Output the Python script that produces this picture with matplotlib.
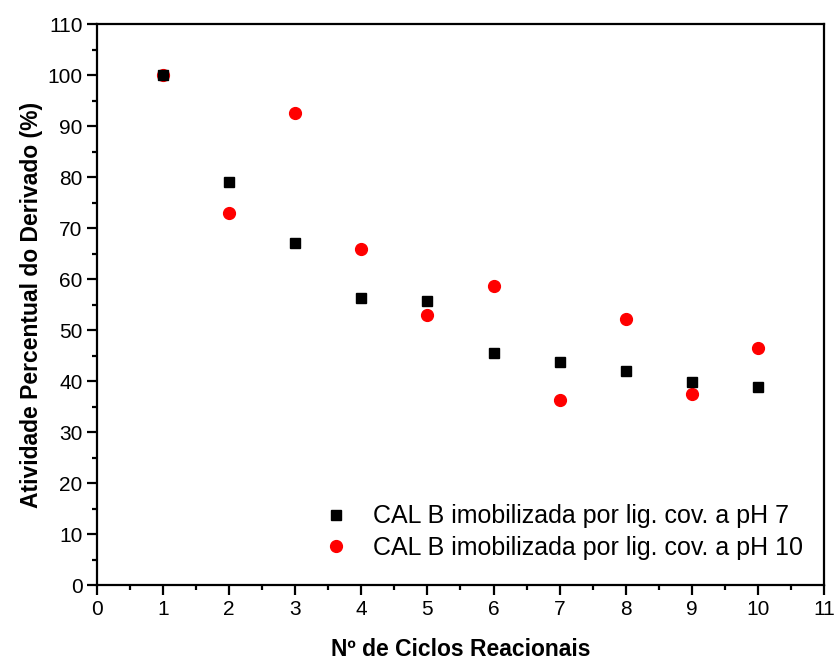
import matplotlib.pyplot as plt
from matplotlib.ticker import MultipleLocator

plt.rcParams['font.family'] = ['Liberation Sans', 'DejaVu Sans']

# Data
ciclos = [1, 2, 3, 4, 5, 6, 7, 8, 9, 10]
ph7 = [100, 79.1, 67.1, 56.3, 55.6, 45.5, 43.7, 41.9, 39.9, 38.8]
ph10 = [100, 73.0, 92.6, 65.9, 52.9, 58.7, 36.3, 52.1, 37.4, 46.5]

label_ph7 = 'CAL B imobilizada por lig. cov. a pH 7'
label_ph10 = 'CAL B imobilizada por lig. cov. a pH 10'

fig = plt.figure(figsize=(8.36, 6.6), dpi=100)
ax = fig.add_axes([0.116, 0.1136, 0.8696, 0.85])

ax.plot(ciclos, ph7, 's', color='black', markersize=7.5, label=label_ph7, zorder=3)
ax.plot(ciclos, ph10, 'o', color='red', markersize=8.5, label=label_ph10, zorder=2)

ax.set_xlim(0, 11)
ax.set_ylim(0, 110)
ax.xaxis.set_major_locator(MultipleLocator(1))
ax.xaxis.set_minor_locator(MultipleLocator(0.5))
ax.yaxis.set_major_locator(MultipleLocator(10))
ax.yaxis.set_minor_locator(MultipleLocator(5))

for s in ax.spines.values():
    s.set_linewidth(1.6)
ax.tick_params(which='major', direction='out', length=7, width=1.6, labelsize=15)
ax.tick_params(which='minor', direction='out', length=3.5, width=1.6)

ax.set_xlabel('Nº de Ciclos Reacionais', fontsize=16.5, fontweight='bold', labelpad=14)
ax.set_ylabel('Atividade Percentual do Derivado (%)', fontsize=16.5, fontweight='bold', labelpad=3)

ax.legend(loc='upper left', bbox_to_anchor=(0.272, 0.184), frameon=False,
          fontsize=18, handletextpad=0.75, labelspacing=0.3, handlelength=1.5)

plt.savefig('out.png', dpi=100, facecolor='white')
